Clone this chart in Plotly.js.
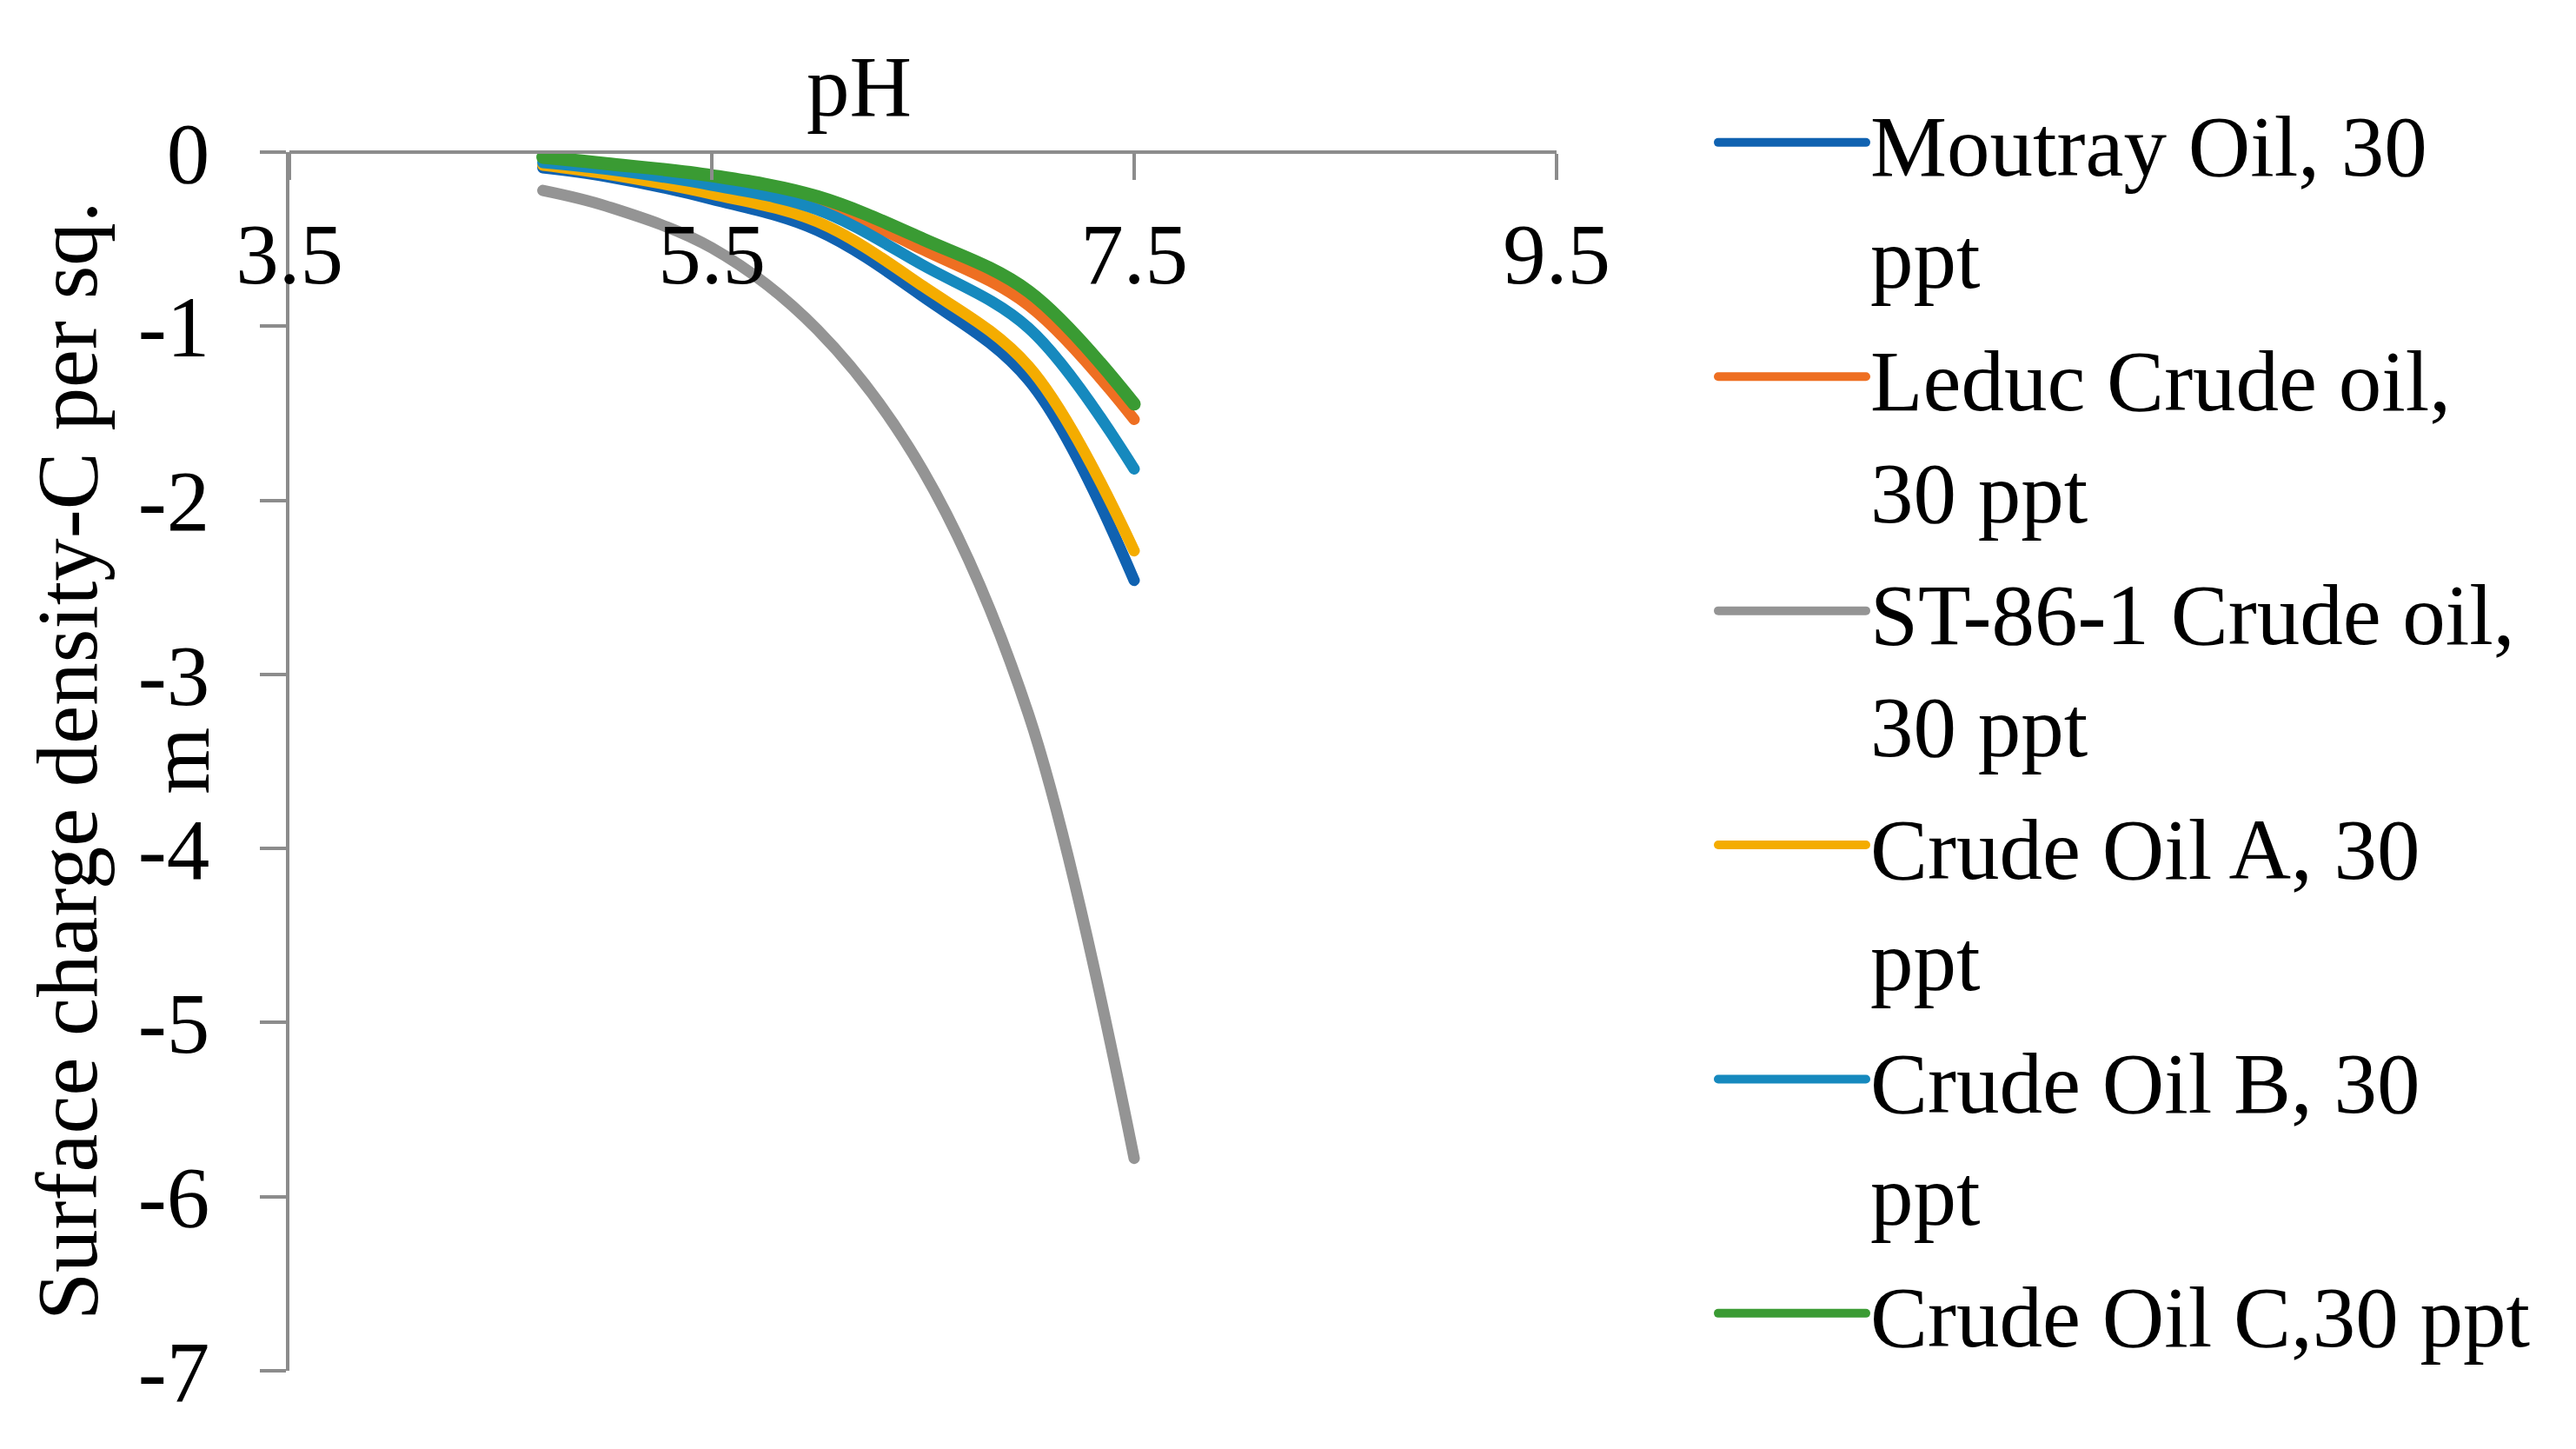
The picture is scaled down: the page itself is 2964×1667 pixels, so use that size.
<!DOCTYPE html>
<html>
<head>
<meta charset="utf-8">
<script src="https://cdn.plot.ly/plotly-3.0.1.min.js"></script>
<style>
html,body{margin:0;padding:0;background:#fff;}
#chart{width:2964px;height:1667px;}
.scatterlayer .js-line, .legendlines path {stroke-linecap: round;}
</style>
</head>
<body>
<div id="chart"></div>
<script>
// pH values (x)
const pH = [4.7, 5.0, 5.5, 6.0, 6.5, 7.0, 7.5];
// Surface charge density series (C per sq. m)
const moutray = [-0.09, -0.14, -0.27, -0.45, -0.83, -1.31, -2.46];
const leduc   = [-0.04, -0.07, -0.14, -0.29, -0.56, -0.88, -1.535];
const st86    = [-0.22, -0.31, -0.55, -1.02, -1.83, -3.23, -5.78];
const oilA    = [-0.075, -0.125, -0.24, -0.40, -0.77, -1.23, -2.29];
const oilB    = [-0.06, -0.098, -0.19, -0.33, -0.65, -1.01, -1.82];
const oilC    = [-0.03, -0.066, -0.135, -0.256, -0.50, -0.80, -1.447];

const seriesNames = [
  "Moutray Oil, 30<br>ppt",
  "Leduc Crude oil,<br>30 ppt",
  "ST-86-1 Crude oil,<br>30 ppt",
  "Crude Oil A, 30<br>ppt",
  "Crude Oil B, 30<br>ppt",
  "Crude Oil C,30 ppt"
];
const seriesValues = [moutray, leduc, st86, oilA, oilB, oilC];

const xTickVals = [3.5, 5.5, 7.5, 9.5];
const xTickText = ["3.5", "5.5", "7.5", "9.5"];
const yTickVals = [0, -1, -2, -3, -4, -5, -6, -7];
const yTickText = ["0", "-1", "-2", "-3", "-4", "-5", "-6", "-7"];

const colors = ["#1062B1", "#EE6F22", "#949494", "#F4AC00", "#1689BE", "#3A9B33"];
const widths = [13, 13, 13, 13, 13, 15];
const FONT = "'Liberation Serif', 'Times New Roman', serif";
const FS = 99;

const traces = seriesValues.map((vals, i) => ({
  type: "scatter",
  mode: "lines",
  x: pH,
  y: vals,
  name: seriesNames[i],
  legendgroup: "g" + i,
  line: {color: colors[i], width: widths[i], shape: "spline", smoothing: 1},
  hoverinfo: "skip"
}));

const W = 2964, H = 1667;
const L = 333, R = 2964 - 1791, T = 175, B = 1667 - 1577;
const pw = W - L - R, ph = H - T - B;
const px2x = p => (p - L) / pw;
const py2y = p => 1 - (p - T) / ph;

const layout = {
  width: W, height: H,
  margin: {l: L, r: R, t: T, b: B, autoexpand: false},
  paper_bgcolor: "#ffffff",
  plot_bgcolor: "#ffffff",
  font: {family: FONT, size: FS, color: "#000000"},
  showlegend: true,
  legend: {
    x: px2x(1972), xanchor: "left",
    y: py2y(93), yanchor: "top",
    font: {family: FONT, size: FS, color: "#000000"},
    itemwidth: 170,
    valign: "top",
    bgcolor: "rgba(0,0,0,0)",
    borderwidth: 0,
    tracegroupgap: 9,
    traceorder: "grouped",
    maxheight: 1600
  },
  xaxis: {
    range: [3.5, 9.5],
    anchor: "free",
    position: 1,
    side: "bottom",
    tickmode: "array",
    tickvals: xTickVals,
    ticktext: xTickText,
    ticks: "outside",
    ticklen: 30,
    tickwidth: 4,
    tickcolor: "#8C8C8C",
    showline: true,
    linecolor: "#8C8C8C",
    linewidth: 4,
    showgrid: false,
    zeroline: false,
    ticklabelstandoff: 0,
    tickfont: {family: FONT, size: FS, color: "#000000"}
  },
  yaxis: {
    range: [-7, 0],
    tickmode: "array",
    tickvals: yTickVals,
    ticktext: yTickText,
    ticks: "outside",
    ticklen: 30,
    tickwidth: 4,
    tickcolor: "#8C8C8C",
    showline: true,
    linecolor: "#8C8C8C",
    linewidth: 4,
    showgrid: false,
    zeroline: false,
    ticklabelstandoff: 38,
    tickfont: {family: FONT, size: FS, color: "#000000"}
  },
  annotations: [
    {
      text: "pH", xref: "paper", yref: "paper",
      x: px2x(988), y: py2y(100), xanchor: "center", yanchor: "middle",
      showarrow: false, font: {family: FONT, size: FS, color: "#000000"}
    },
    {
      text: "Surface charge density-C per sq.<br>m", xref: "paper", yref: "paper",
      x: px2x(142), y: 0.5, xanchor: "center", yanchor: "middle",
      textangle: -90, showarrow: false,
      font: {family: FONT, size: FS, color: "#000000"}
    }
  ]
};

Plotly.newPlot("chart", traces, layout, {staticPlot: true, displayModeBar: false});
</script>
</body>
</html>
